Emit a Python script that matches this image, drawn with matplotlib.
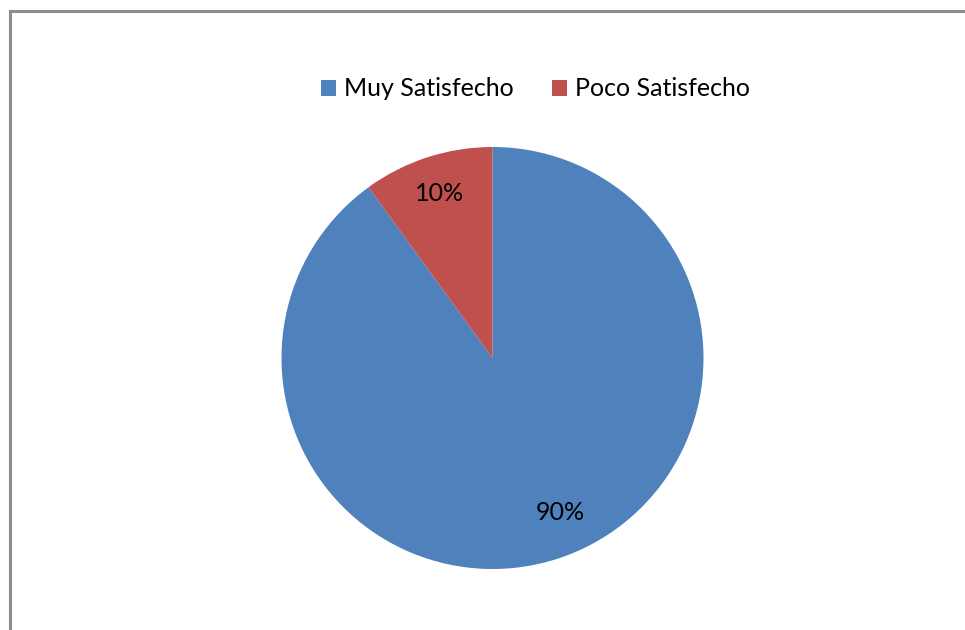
import matplotlib.pyplot as plt
from matplotlib.lines import Line2D
from matplotlib.patches import Patch

# Survey data
labels = ["Muy Satisfecho", "Poco Satisfecho"]
shares = [90, 10]
colors = ["#4F81BD", "#C0504D"]

plt.rcParams["font.family"] = ["Lato", "DejaVu Sans"]

fig = plt.figure(figsize=(9.65, 6.3), dpi=100)

# Pie area: centre (492, 358) px, radius 211 px
W, H = 965, 630
cx, cy, r = 492.5, 358, 211
ax = fig.add_axes([(cx - r) / W, (H - cy - r) / H, 2 * r / W, 2 * r / H])

wedges, _, autotexts = ax.pie(
    shares, colors=colors, startangle=90, counterclock=False,
    autopct="%1.0f%%", pctdistance=0.8,
    textprops={"fontsize": 18, "color": "#000000"},
    wedgeprops={"linewidth": 0},
)
ax.set_xlim(-1, 1)
ax.set_ylim(-1, 1)
ax.set_aspect("equal")

# nudge the percentage labels to where the spreadsheet puts them
autotexts[0].set_position((0.32, -0.73))
autotexts[1].set_position((-0.25, 0.78))

# Legend above the pie
handles = [Patch(facecolor=c, edgecolor="none") for c in colors]
fig.legend(handles, labels, loc="center", bbox_to_anchor=(535.5 / W, 1 - 89 / H),
           ncol=2, frameon=False, fontsize=18, handlelength=0.6,
           handleheight=0.6, handletextpad=0.35, columnspacing=1.5)

# Chart-area border (only top and left edges fall inside the image)
frame_color = "#8C8C8C"
fig.add_artist(Line2D([10 / W, 1], [1 - 11 / H, 1 - 11 / H],
                      transform=fig.transFigure, color=frame_color, linewidth=2.2))
fig.add_artist(Line2D([10 / W, 10 / W], [0, 1 - 11 / H],
                      transform=fig.transFigure, color=frame_color, linewidth=2.2))

fig.savefig("out.png", dpi=100)
